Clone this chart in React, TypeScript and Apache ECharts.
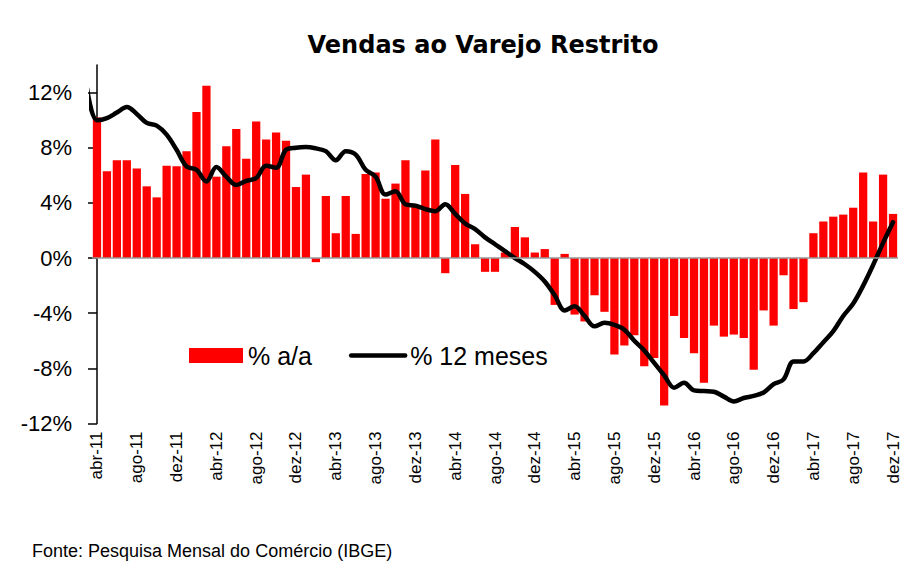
import React, { useEffect, useRef } from 'react';
import * as echarts from 'echarts';

const categories = [
  'abr-11','mai-11','jun-11','jul-11','ago-11','set-11','out-11','nov-11','dez-11',
  'jan-12','fev-12','mar-12','abr-12','mai-12','jun-12','jul-12','ago-12','set-12','out-12','nov-12','dez-12',
  'jan-13','fev-13','mar-13','abr-13','mai-13','jun-13','jul-13','ago-13','set-13','out-13','nov-13','dez-13',
  'jan-14','fev-14','mar-14','abr-14','mai-14','jun-14','jul-14','ago-14','set-14','out-14','nov-14','dez-14',
  'jan-15','fev-15','mar-15','abr-15','mai-15','jun-15','jul-15','ago-15','set-15','out-15','nov-15','dez-15',
  'jan-16','fev-16','mar-16','abr-16','mai-16','jun-16','jul-16','ago-16','set-16','out-16','nov-16','dez-16',
  'jan-17','fev-17','mar-17','abr-17','mai-17','jun-17','jul-17','ago-17','set-17','out-17','nov-17','dez-17',
];

// % a/a (year over year)
const yoyValues = [
  10.2, 6.3, 7.1, 7.1, 6.5, 5.2, 4.4, 6.7, 6.65,
  7.75, 10.6, 12.5, 5.9, 8.1, 9.35, 7.2, 9.9, 8.6, 9.1, 8.5, 5.15,
  6.05, -0.3, 4.5, 1.8, 4.5, 1.75, 6.1, 6.2, 4.3, 5.4, 7.1, 3.7,
  6.35, 8.6, -1.1, 6.75, 4.65, 1.0, -1.0, -1.0, 0.4, 2.25, 1.5, 0.4,
  0.65, -3.4, 0.3, -4.1, -4.6, -2.7, -3.9, -7.0, -6.35, -5.6, -7.85, -7.25,
  -10.7, -4.2, -5.8, -6.9, -9.05, -4.9, -5.7, -5.55, -5.8, -8.1, -3.8, -4.9,
  -1.25, -3.7, -3.2, 1.8, 2.65, 3.0, 3.15, 3.65, 6.2, 2.65, 6.05, 3.2,
];

// % 12 meses (accumulated 12 months); value of the month before abr-11 (mar-11)
const twelveMonthLead = 12.3;
const twelveMonthValues = [
  10.0, 10.15, 10.55, 10.95, 10.45, 9.8, 9.6, 8.95, 7.85,
  6.65, 6.4, 5.55, 6.6, 5.9, 5.3, 5.6, 5.8, 6.7, 6.55, 7.85, 8.0,
  8.05, 7.95, 7.75, 7.1, 7.75, 7.5, 6.4, 5.9, 4.6, 4.85, 3.9, 3.8,
  3.55, 3.4, 3.9, 3.2, 2.5, 2.1, 1.5, 1.0, 0.5, 0.0, -0.45, -1.0,
  -1.7, -2.7, -3.8, -3.5, -4.2, -4.95, -4.7, -4.85, -5.2, -6.0, -6.7, -7.6,
  -8.5, -9.4, -9.05, -9.6, -9.65, -9.7, -10.05, -10.4, -10.15, -10.0, -9.75, -9.15,
  -8.8, -7.5, -7.5, -6.9, -6.1, -5.3, -4.2, -3.3, -2.0, -0.5, 1.1, 2.6,
];

const yTicks = [-12, -8, -4, 0, 4, 8, 12];

const titleText = 'Vendas ao Varejo Restrito';
const sourceText = 'Fonte: Pesquisa Mensal do Comércio (IBGE)';

export default function App() {
  const ref = useRef<HTMLDivElement>(null);
  useEffect(() => {
    const chart = echarts.init(ref.current as HTMLDivElement, null, { renderer: 'svg' });
    const lineData: number[][] = [[-1, twelveMonthLead]].concat(
      twelveMonthValues.map((v, i) => [i, v])
    );
    chart.setOption({
      animation: false,
      backgroundColor: '#ffffff',
      textStyle: { fontFamily: 'Liberation Sans, Arial, sans-serif' },
      grid: { left: 92, top: 65, right: 24, bottom: 147.5, outerBoundsMode: 'none' },
      legend: {
        left: 189,
        top: 343,
        padding: 0,
        itemWidth: 54,
        itemHeight: 15,
        itemGap: 37,
        textStyle: { fontSize: 25, color: '#000', fontFamily: 'Liberation Sans, Arial, sans-serif' },
        data: [
          { name: '% a/a', icon: 'rect' },
          {
            name: '% 12 meses',
            itemStyle: { opacity: 0 },
            lineStyle: { width: 4.5, color: '#000', cap: 'round' },
          },
        ],
      },
      xAxis: [
        {
          type: 'category',
          data: categories,
          boundaryGap: true,
          axisLine: { show: false },
          axisTick: { show: false },
          splitLine: { show: false },
          axisLabel: { interval: 3, rotate: 90, margin: 8, fontSize: 17, color: '#000' },
        },
        { type: 'value', min: -0.5, max: 80.5, show: false },
      ],
      yAxis: {
        type: 'value',
        min: -12,
        max: 14,
        splitLine: { show: false },
        axisLine: { show: true, lineStyle: { color: '#000', width: 1.5 } },
        axisTick: { show: true, length: 9, customValues: yTicks, lineStyle: { color: '#000', width: 1.5 } },
        axisLabel: { customValues: yTicks, formatter: '{value}%', fontSize: 22, margin: 20, color: '#000' },
      },
      series: [
        {
          type: 'bar',
          name: '% a/a',
          data: yoyValues,
          barCategoryGap: '17%',
          itemStyle: { color: '#FF0000' },
          markLine: {
            silent: true,
            symbol: ['none', 'none'],
            label: { show: false },
            lineStyle: { color: '#999999', width: 1.5, type: 'solid' },
            data: [{ yAxis: 0 }],
          },
        },
        {
          type: 'line',
          name: '% 12 meses',
          xAxisIndex: 1,
          data: lineData,
          smooth: 0.35,
          symbol: 'none',
          clip: true,
          itemStyle: { color: '#000' },
          lineStyle: { color: '#000', width: 4.5, cap: 'round', join: 'round' },
        },
      ],
      graphic: [
        {
          type: 'text',
          x: 483,
          y: 45,
          style: {
            text: titleText,
            fontFamily: 'DejaVu Sans',
            fontWeight: 'bold',
            fontSize: 24,
            fill: '#000',
            align: 'center',
            verticalAlign: 'middle',
          },
        },
        {
          type: 'text',
          x: 32,
          y: 551,
          style: {
            text: sourceText,
            fontFamily: 'Liberation Sans, Arial, sans-serif',
            fontSize: 18,
            fill: '#000',
            align: 'left',
            verticalAlign: 'middle',
          },
        },
      ],
    });
    return () => chart.dispose();
  }, []);
  return (
    <div
      ref={ref}
      style={{ position: 'absolute', left: 0, top: 0, width: 922, height: 571, background: '#fff' }}
    />
  );
}
